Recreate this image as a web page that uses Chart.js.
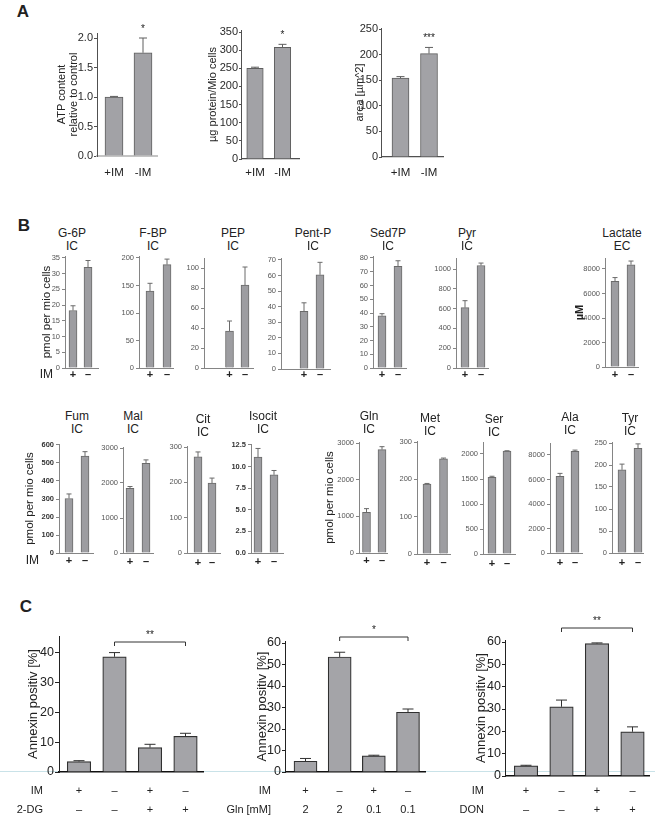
<!DOCTYPE html>
<html>
<head>
<meta charset="utf-8">
<script src="https://cdn.jsdelivr.net/npm/chart.js@4.4.1/dist/chart.umd.min.js"></script>
<style>
  body { margin: 0; background: #fff; }
  #fig { position: relative; width: 661px; height: 819px; overflow: hidden; }
  #fig canvas { position: absolute; }
  .t { position: absolute; transform: translate(-50%, -50%); white-space: nowrap; color: #222;
       font-family: "Liberation Sans", Arial, sans-serif; font-size: 12px; }
  .blue { position: absolute; left: 0; width: 655px; height: 1px; top: 771px; background: #c9e2e8; }
</style>
</head>
<body>
<div id="fig"><div class="blue"></div></div>
<script>
// ---------- panel A
const aGroups = ['+IM', '-IM'];
const atpMean = [1.0, 1.75];
const atpErr = [0.01, 0.25];
const atpSig = ['', '*'];
const protMean = [250, 308];
const protErr = [3, 8];
const protSig = ['', '*'];
const areaMean = [154, 202];
const areaErr = [3, 12];
const areaSig = ['', '***'];

// ---------- panel B  (+IM, -IM)
const bGroups = ['+', '–'];
const bNames = ['G-6P', 'F-BP', 'PEP', 'Pent-P', 'Sed7P', 'Pyr', 'Lactate',
                'Fum', 'Mal', 'Cit', 'Isocit', 'Gln', 'Met', 'Ser', 'Ala', 'Tyr'];
const bPlace = ['IC', 'IC', 'IC', 'IC', 'IC', 'IC', 'EC',
                'IC', 'IC', 'IC', 'IC', 'IC', 'IC', 'IC', 'IC', 'IC'];
const bMean = [[18.3, 32], [140, 188], [37, 83], [37, 60.5], [38, 74], [610, 1035], [7000, 8350],
               [303, 538], [1850, 2560], [272, 198], [11.1, 9.05], [1110, 2820], [187, 255],
               [1535, 2060], [6250, 8300], [189, 238]];
const bErr = [[1.5, 2.2], [14, 10], [10, 18], [5.5, 8], [1.5, 4], [70, 25], [300, 300],
              [25, 25], [50, 100], [14, 14], [1.0, 0.5], [100, 80], [2, 2],
              [20, 5], [250, 100], [13, 10]];
const bTickTop = [35, 200, 100, 70, 80, 1000, 8000, 600, 3000, 300, 12.5, 3000, 300, 2000, 8000, 250];
const bTickStep = [5, 50, 20, 10, 10, 200, 2000, 100, 1000, 100, 2.5, 1000, 100, 500, 2000, 50];

// ---------- panel C
const cIM = ['+', '–', '+', '–'];
const cDG = ['–', '–', '+', '+'];
const cGln = ['2', '2', '0.1', '0.1'];
const cDON = ['–', '–', '+', '+'];
const dgMean = [3.5, 38.7, 8.2, 12.0];
const dgErr = [0.3, 1.4, 1.1, 1.0];
const glnMean = [5.0, 53.5, 7.5, 27.8];
const glnErr = [1.3, 2.2, 0.3, 1.5];
const donMean = [4.5, 31.0, 59.3, 19.8];
const donErr = [0.3, 3.0, 0.3, 2.2];

// ---------- layout (pixels on the page)
// [axisLeft, axisTop, topTickPx, zeroPx, axisRight, barCenter1, barCenter2]
const bBox = [
  [65, 256, 258, 368, 98, 73, 88], [139, 256, 258, 368, 173, 150, 167], [204, 258, 268, 368, 253, 229.5, 245],
  [281, 258, 260, 369, 330, 304, 320], [373, 256, 258, 368, 406, 382, 398], [456, 258, 269, 368, 488, 465, 481],
  [605, 258, 269, 367, 638, 615, 631],
  [59, 444, 445, 553, 93, 69, 85], [123, 447, 448, 553, 153, 130, 146], [187, 446, 447, 553, 220, 198, 212],
  [251, 444, 445, 553, 283, 258, 274], [359, 442, 443, 553, 387, 366.5, 382], [417, 441, 442, 554, 450, 427, 443.5],
  [483, 442, 454, 554, 515, 492, 507], [550, 443, 455, 553, 582, 560, 575], [612, 442, 443, 553, 643, 622, 638]
];
const bTitleAt = [[72, 233], [153, 233], [233, 233], [313, 233], [388, 233], [467, 233], [622, 233],
                  [77, 416], [133, 416], [203, 419], [263, 416], [369, 416], [430, 418], [494, 419], [570, 417], [630, 418]];
const bRowY = [375, 375, 375, 375, 375, 375, 375, 561, 562, 563, 562, 561, 563, 564, 563, 563];

const SANS = '"Liberation Sans", Arial, Helvetica, sans-serif';

const STYLE_A = { fill: '#a2a2a6', edge: '#5e5e5e', edgeW: 1, axis: '#505050', xaxis: '#505050', xaxisW: 1.2,
  tick: { family: SANS, size: 11 }, tickColor: '#2a2a2a', tickLen: 3, tickPad: 1,
  title: { family: SANS, size: 11, lineHeight: 1.1 }, cap: 8,
  row: '11.5px ' + SANS, rowTitle: '11.5px ' + SANS, star: '10px ' + SANS };
const STYLE_B = { fill: '#9d9da1', edge: '#6a6a6a', edgeW: 1, axis: '#858585', xaxis: '#858585', xaxisW: 1,
  tick: { family: SANS, size: 7.5 }, tickColor: '#555', tickLen: 3, tickPad: 2,
  title: { family: SANS, size: 11.5 }, cap: 5,
  row: 'bold 11px ' + SANS, rowTitle: '12px ' + SANS, star: '10px ' + SANS };
const STYLE_B_BOLD = Object.assign({}, STYLE_B, { tick: { family: SANS, size: 7.5, weight: 'bold' }, tickColor: '#333' });
const STYLE_C = { fill: '#a4a4a8', edge: '#303030', edgeW: 1.2, axis: '#222', xaxis: '#111', xaxisW: 1.6,
  tick: { family: SANS, size: 12.5 }, tickColor: '#222', tickLen: 4, tickPad: 1,
  title: { family: SANS, size: 13 }, cap: 11,
  row: '11px ' + SANS, rowTitle: '11px ' + SANS, star: '10px ' + SANS };

const fig = document.getElementById('fig');

function text(str, x, y, css) {
  const d = document.createElement('div');
  d.className = 't';
  d.textContent = str;
  d.style.left = x + 'px';
  d.style.top = y + 'px';
  if (css) d.style.cssText += css;
  fig.appendChild(d);
}

function extras(s) {
  const st = s.style;
  return {
    id: 'extras',
    afterDatasetsDraw(chart) {
      const ctx = chart.ctx, y = chart.scales.y, area = chart.chartArea;
      const bars = chart.getDatasetMeta(0).data;
      ctx.save();
      ctx.strokeStyle = st.edge;
      ctx.fillStyle = '#222';
      ctx.lineWidth = 1;
      // error bars (upper half only)
      bars.forEach((b, i) => {
        const top = y.getPixelForValue(s.mean[i] + s.err[i]);
        ctx.beginPath();
        ctx.moveTo(b.x, b.y);
        ctx.lineTo(b.x, top);
        ctx.moveTo(b.x - st.cap / 2, top);
        ctx.lineTo(b.x + st.cap / 2, top);
        ctx.stroke();
        if (s.sig && s.sig[i]) {
          ctx.font = st.star;
          ctx.textAlign = 'center';
          ctx.textBaseline = 'middle';
          ctx.fillText(s.sig[i], b.x, top - 9);
        }
      });
      // labels under the bars
      (s.rows || []).forEach(r => {
        const ry = area.bottom + (r.y - s.bottom);
        ctx.textBaseline = 'middle';
        ctx.font = st.row;
        ctx.textAlign = 'center';
        r.labels.forEach((lab, i) => ctx.fillText(lab, bars[i].x, ry));
        if (r.title) {
          ctx.font = st.rowTitle;
          ctx.textAlign = 'right';
          ctx.fillText(r.title, area.left - s.rowGap, ry);
        }
      });
      // significance bracket
      if (s.bracket) {
        const k = s.bracket, by = area.top + (k.y - s.axisTop);
        const x1 = bars[k.from].x, x2 = bars[k.to].x;
        ctx.strokeStyle = '#333';
        ctx.beginPath();
        ctx.moveTo(x1, by + 4); ctx.lineTo(x1, by); ctx.lineTo(x2, by); ctx.lineTo(x2, by + 4);
        ctx.stroke();
        ctx.font = st.star;
        ctx.textAlign = 'center';
        ctx.textBaseline = 'middle';
        ctx.fillText(k.text, (x1 + x2) / 2, by - 7);
      }
      ctx.restore();
    }
  };
}

function plot(s) {
  const st = s.style;
  const lh = s.yTitle ? st.title.size * (st.title.lineHeight || 1.2) : 0;
  const yw = s.yTitle ? s.left - s.yTitleX + lh / 2 : 30;
  const padT = s.padT, padB = s.padB, padR = 3;
  const cLeft = Math.floor(s.left - yw - (s.padL || 0));
  const cTop = s.axisTop - padT;
  const W = Math.ceil(s.right - cLeft + padR);
  const H = s.bottom - s.axisTop + padT + padB;
  const n = s.centers.length;
  const u = (s.centers[n - 1] - s.centers[0]) / (n - 1);
  const xMin = 1 - (s.centers[0] - s.left) / u;
  const xMax = n + (s.right - s.centers[n - 1]) / u;
  const yMax = s.tickTop * (s.bottom - s.axisTop) / (s.bottom - s.tickPx);

  const cv = document.createElement('canvas');
  cv.width = W; cv.height = H;
  cv.style.left = cLeft + 'px';
  cv.style.top = cTop + 'px';
  fig.appendChild(cv);

  new Chart(cv, {
    type: 'bar',
    data: {
      datasets: [{
        data: s.mean.map((v, i) => ({ x: i + 1, y: v })),
        backgroundColor: st.fill,
        borderColor: st.edge,
        borderWidth: st.edgeW,
        barThickness: s.barW
      }]
    },
    options: {
      responsive: false,
      animation: false,
      events: [],
      layout: { padding: { left: s.left - yw - cLeft, top: padT, right: W - (s.right - cLeft), bottom: padB } },
      plugins: { legend: { display: false }, tooltip: { enabled: false }, title: { display: false } },
      scales: {
        x: {
          type: 'linear', min: xMin, max: xMax, offset: false,
          ticks: { display: false },
          grid: { display: false, offset: false },
          border: { color: st.xaxis, width: st.xaxisW },
          afterFit(sc) { sc.height = 0; }
        },
        y: {
          min: 0, max: yMax,
          ticks: {
            font: st.tick, color: st.tickColor, padding: st.tickPad,
            callback: s.fmt || (v => String(v))
          },
          afterBuildTicks(sc) {
            const t = [];
            for (let k = 0; k * s.step <= s.tickTop + 1e-9; k++) t.push({ value: +(k * s.step).toFixed(6) });
            sc.ticks = t;
          },
          grid: { drawOnChartArea: false, drawTicks: true, tickLength: st.tickLen, color: st.axis },
          border: { color: st.axis, width: 1 },
          title: s.yTitle ? { display: true, text: s.yTitle, font: Object.assign({}, st.title, s.yTitleFont || {}), color: '#222', padding: 0 }
                          : { display: false },
          afterFit(sc) { sc.width = yw; }
        }
      }
    },
    plugins: [extras(s)]
  });
}

const oneDecimal = v => v.toFixed(1);

// ---------- panel A
text('A', 23, 12, 'font:bold 17px ' + SANS);
plot({ mean: atpMean, err: atpErr, sig: atpSig, left: 97, axisTop: 33, tickPx: 38, tickTop: 2.0, step: 0.5,
       bottom: 156, right: 157, centers: [114, 143], barW: 18, fmt: oneDecimal,
       yTitle: ['ATP content', 'relative to control'], yTitleX: 62, padT: 22, padB: 26,
       rows: [{ y: 173, labels: aGroups }],
       style: Object.assign({}, STYLE_A, { xaxis: '#c4c4c4', xaxisW: 2 }) });
plot({ style: STYLE_A, mean: protMean, err: protErr, sig: protSig, left: 242, axisTop: 30, tickPx: 32, tickTop: 350, step: 50,
       bottom: 159, right: 299, centers: [255, 282.5], barW: 16.5,
       yTitle: 'µg protein/Mio cells', yTitleX: 213, padT: 22, padB: 26,
       rows: [{ y: 173, labels: aGroups }] });
plot({ style: STYLE_A, mean: areaMean, err: areaErr, sig: areaSig, left: 382, axisTop: 28, tickPx: 29, tickTop: 250, step: 50,
       bottom: 157, right: 443, centers: [400.5, 429], barW: 17,
       yTitle: 'area [µm^2]', yTitleX: 360, padT: 22, padB: 26,
       rows: [{ y: 173, labels: aGroups }] });

// ---------- panel B
text('B', 24, 226, 'font:bold 17px ' + SANS);
bNames.forEach((name, i) => {
  const [left, axisTop, tickPx, bottom, right, c1, c2] = bBox[i];
  const [tx, ty] = bTitleAt[i];
  text(name, tx, ty);
  text(bPlace[i], tx, ty + 13);
  const spec = {
    style: (name === 'Fum' || name === 'Isocit') ? STYLE_B_BOLD : STYLE_B,
    mean: bMean[i], err: bErr[i], left, axisTop, tickPx, tickTop: bTickTop[i], step: bTickStep[i],
    bottom, right, centers: [c1, c2], barW: 8, padT: 8, padB: 16, rowGap: 12,
    rows: [{ y: bRowY[i], labels: bGroups }]
  };
  if (name === 'Isocit') spec.fmt = oneDecimal;
  if (name === 'G-6P') { spec.yTitle = 'pmol per mio cells'; spec.yTitleX = 47; spec.rows[0].title = 'IM'; }
  if (name === 'Fum') { spec.yTitle = 'pmol per mio cells'; spec.yTitleX = 30; spec.rows[0].title = 'IM'; spec.rowGap = 20; }
  if (name === 'Gln') { spec.yTitle = 'pmol per mio cells'; spec.yTitleX = 330; }
  if (name === 'Lactate') { spec.yTitle = 'µM'; spec.yTitleX = 580; spec.yTitleFont = { size: 11, weight: 'bold' }; }
  plot(spec);
});

// ---------- panel C
text('C', 26, 607, 'font:bold 17px ' + SANS);
plot({ style: STYLE_C, mean: dgMean, err: dgErr, left: 59, axisTop: 636, tickPx: 638, tickTop: 45, step: 5,
       bottom: 772, right: 203, centers: [79, 114.5, 150, 185.5], barW: 23.5,
       yTitle: 'Annexin positiv [%]', yTitleX: 33, padL: 12, padT: 30, padB: 48, rowGap: 16,
       rows: [{ y: 791, title: 'IM', labels: cIM }, { y: 810, title: '2-DG', labels: cDG }],
       bracket: { from: 1, to: 3, y: 642, text: '**' } });
plot({ style: STYLE_C, mean: glnMean, err: glnErr, left: 286, axisTop: 641, tickPx: 643, tickTop: 60, step: 10,
       bottom: 772, right: 425, centers: [305.5, 340.5, 374.5, 408], barW: 23,
       yTitle: 'Annexin positiv [%]', yTitleX: 262, padL: 30, padT: 30, padB: 48, rowGap: 15,
       rows: [{ y: 791, title: 'IM', labels: cIM }, { y: 810, title: 'Gln [mM]', labels: cGln }],
       bracket: { from: 1, to: 3, y: 637, text: '*' } });
plot({ style: STYLE_C, mean: donMean, err: donErr, left: 506, axisTop: 640, tickPx: 642, tickTop: 60, step: 10,
       bottom: 776, right: 649, centers: [526, 561.5, 597.5, 632.5], barW: 23.5,
       yTitle: 'Annexin positiv [%]', yTitleX: 481, padL: 14, padT: 30, padB: 44, rowGap: 22,
       rows: [{ y: 791, title: 'IM', labels: cIM }, { y: 810, title: 'DON', labels: cDON }],
       bracket: { from: 1, to: 3, y: 628, text: '**' } });
</script>
</body>
</html>
